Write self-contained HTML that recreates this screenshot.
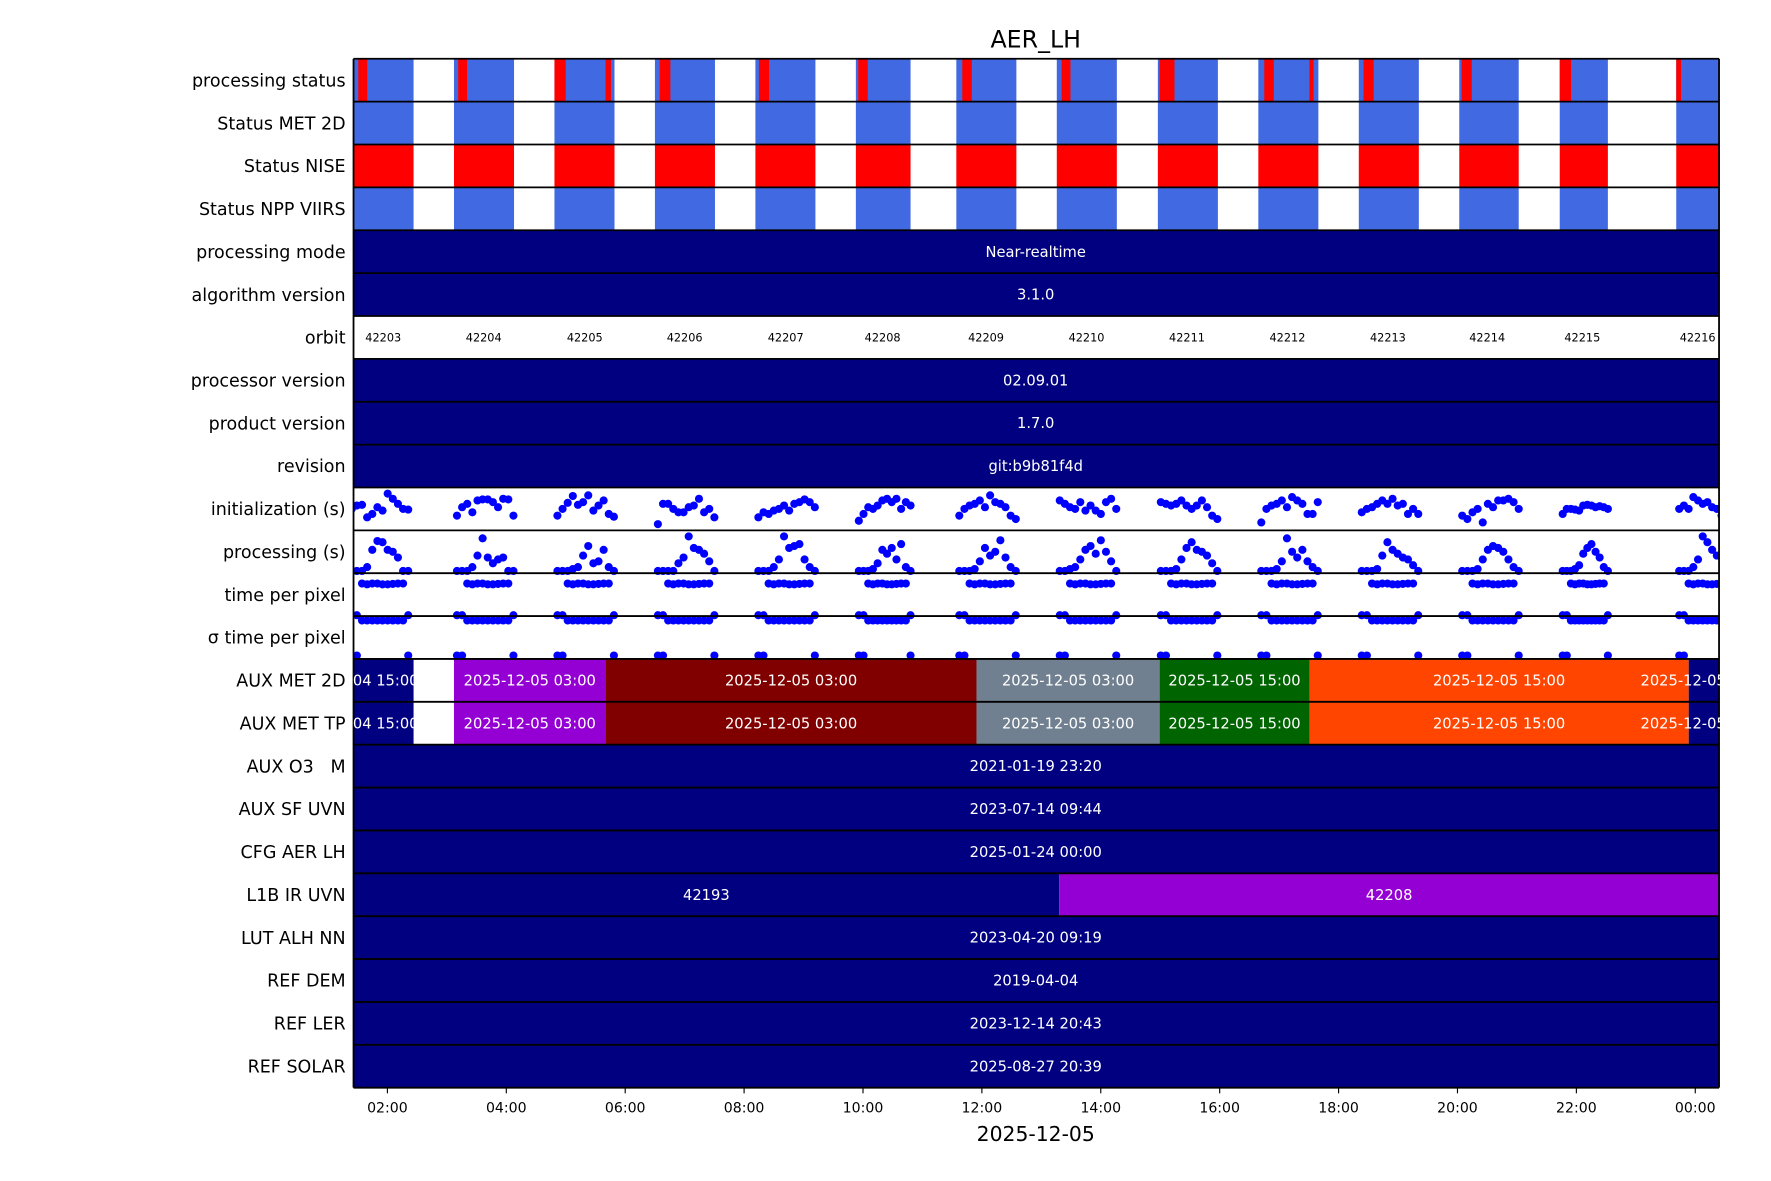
<!DOCTYPE html>
<html><head><meta charset="utf-8"><style>
html,body{margin:0;padding:0;background:#fff;}
svg{display:block;font-family:"DejaVu Sans","Liberation Sans",sans-serif;}
text{white-space:pre;}
</style></head><body>
<svg id="chart" width="1771" height="1181" viewBox="0 0 1568 1045.6" xmlns="http://www.w3.org/2000/svg">
<text x="917" y="42" font-size="21" text-anchor="middle">AER_LH</text>
<g id="rows"></g><g id="dots"></g><g id="grid"></g><g id="labels"></g><g id="axis"></g>
</svg>
<script>
const rowLabels=["processing status","Status MET 2D","Status NISE","Status NPP VIIRS","processing mode","algorithm version","orbit","processor version","product version","revision","initialization (s)","processing (s)","time per pixel","\u03c3 time per pixel","AUX MET 2D","AUX MET TP","AUX O3   M","AUX SF UVN","CFG AER LH","L1B IR UVN","LUT ALH NN","REF DEM","REF LER","REF SOLAR"];
const orbitNumbers=[42203,42204,42205,42206,42207,42208,42209,42210,42211,42212,42213,42214,42215,42216];
const orbitStart=[1.35,3.12,4.81,6.50,8.19,9.88,11.57,13.26,14.96,16.65,18.34,20.03,21.72,23.68];
const orbitEnd=[2.44,4.13,5.82,7.51,9.20,10.80,12.58,14.27,15.97,17.66,19.35,21.03,22.53,24.6];
const orbitLabelHour=[1.93,3.62,5.32,7.00,8.70,10.33,12.07,13.76,15.45,17.14,18.83,20.50,22.10,24.04];
const errStart=[1.51,3.19,4.81,6.58,8.25,9.92,11.67,13.34,14.99,16.75,18.42,20.07,21.72,23.68];
const errEnd=[1.66,3.34,5.00,6.76,8.42,10.08,11.83,13.49,15.24,16.91,18.59,20.24,21.91,23.76];
const err2Start=[null,null,5.67,null,null,null,null,null,null,17.51,null,null,null,null];
const err2End=[null,null,5.76,null,null,null,null,null,null,17.58,null,null,null,null];
const constRows={4:"Near-realtime",5:"3.1.0",7:"02.09.01",8:"1.7.0",9:"git:b9b81f4d",16:"2021-01-19 23:20",17:"2023-07-14 09:44",18:"2025-01-24 00:00",20:"2023-04-20 09:19",21:"2019-04-04",22:"2023-12-14 20:43",23:"2025-08-27 20:39"};
const auxStart=[0.3,3.12,5.67,11.91,14.99,17.51,23.89];
const auxEnd=[2.44,5.67,11.91,14.99,17.51,23.89,25.5];
const auxColors=["#000080","#9400D3","#800000","#708090","#006400","#FF4500","#000080"];
const auxText=["2025-12-04 15:00","2025-12-05 03:00","2025-12-05 03:00","2025-12-05 03:00","2025-12-05 15:00","2025-12-05 15:00","2025-12-05 15:00"];
const l1bStart=[0,13.3],l1bEnd=[13.3,26],l1bColors=["#000080","#9400D3"],l1bText=["42193","42208"];
const tickHours=[2,4,6,8,10,12,14,16,18,20,22,24];
const tickLabels=["02:00","04:00","06:00","08:00","10:00","12:00","14:00","16:00","18:00","20:00","22:00","00:00"];
const initVals=[
[.5,.6,.62,.25,.35,.55,.45,.95,.8,.65,.5,.48],
[.3,.55,.65,.4,.75,.78,.78,.7,.55,.8,.78,.3],
[.3,.5,.68,.88,.62,.7,.9,.45,.6,.75,.35,.27],
[.05,.65,.65,.5,.4,.4,.55,.6,.8,.4,.5,.25],
[.25,.4,.35,.45,.5,.6,.45,.65,.7,.78,.7,.55],
[.15,.35,.55,.5,.6,.75,.8,.7,.8,.5,.7,.6],
[.3,.5,.6,.65,.75,.55,.9,.7,.65,.55,.3,.2],
[.75,.65,.55,.5,.7,.45,.6,.45,.35,.7,.8,.5],
[.7,.65,.6,.65,.75,.6,.5,.6,.75,.55,.3,.2],
[.1,.5,.6,.65,.75,.55,.85,.75,.65,.35,.35,.7],
[.4,.5,.55,.65,.75,.65,.8,.6,.65,.35,.5,.35],
[.3,.2,.4,.5,.1,.65,.55,.75,.75,.8,.7,.5],
[.35,.5,.5,.48,.45,.6,.62,.6,.55,.58,.55,.5],
[.5,.6,.5,.85,.75,.65,.7,.55,.5,.3,.2,.2]];
const procVals=[
[0,0,0,.1,.55,.78,.75,.55,.5,.35,0,0],
[0,0,0,.1,.4,.85,.35,.2,.3,.35,0,0],
[0,0,0,.05,.1,.4,.65,.2,.25,.55,.1,0],
[0,0,0,0,.2,.35,.9,.6,.55,.45,.25,0],
[0,0,0,.1,.3,.9,.6,.65,.7,.3,.1,0],
[0,0,0,.05,.2,.55,.45,.6,.3,.7,.1,0],
[0,0,0,.05,.25,.6,.4,.5,.8,.35,.1,0],
[0,0,.05,.1,.3,.55,.65,.45,.8,.5,.25,0],
[0,0,0,.05,.3,.6,.75,.55,.5,.4,.2,0],
[0,0,0,.05,.25,.85,.5,.35,.55,.25,.1,0],
[0,0,0,.05,.4,.75,.55,.45,.35,.3,.15,0],
[0,0,0,.05,.3,.55,.65,.6,.5,.3,.1,0],
[0,0,0,.05,.15,.45,.6,.7,.5,.35,.1,0],
[0,0,0,.1,.3,.9,.75,.55,.4,.35,.1,0]];
const tppVals=[.02,.02,.76,.74,.76,.76,.74,.74,.75,.76,.76,.02];
const sigVals=[.12,.12,.86,.86,.86,.86,.86,.86,.86,.86,.86,.12];
</script>
<script>
const NS="http://www.w3.org/2000/svg";
const X0=313,X1=1522,Y0=52,RH=37.958,H0=1.43,H1=24.40;
function xs(h){return X0+(h-H0)/(H1-H0)*(X1-X0);}
function ry(i){return Y0+i*RH;}
function mk(tag,attrs,parent){const e=document.createElementNS(NS,tag);for(const k in attrs)e.setAttribute(k,attrs[k]);parent.appendChild(e);return e;}
const defs=mk("defs",{},document.getElementById("chart"));
const cp=mk("clipPath",{id:"plotclip"},defs);mk("rect",{x:X0,y:Y0,width:X1-X0,height:RH*24},cp);
const rows=document.getElementById("rows"),dots=document.getElementById("dots"),grid=document.getElementById("grid"),labels=document.getElementById("labels"),axis=document.getElementById("axis");
rows.setAttribute("clip-path","url(#plotclip)");
function seg(row,h0,h1,color,name){const a=Math.max(xs(h0),X0),b=Math.min(xs(h1),X1);if(b<=a)return;const r=mk("rect",{x:a,y:ry(row),width:b-a,height:RH,fill:color},rows);

}
function txt(parent,x,y,s,size,fill,anchor,name){const t=mk("text",{x:x,y:y,"font-size":size,fill:fill,"text-anchor":anchor},parent);t.textContent=s;

return t;}
for(let k=0;k<orbitStart.length;k++){
 seg(0,orbitStart[k],orbitEnd[k],"#4169E1","processing-status-ok");
 seg(0,errStart[k],errEnd[k],"#FF0000","processing-status-error");
 if(err2Start[k]!==null)seg(0,err2Start[k],err2End[k],"#FF0000","processing-status-error");
 seg(1,orbitStart[k],orbitEnd[k],"#4169E1","status-met-2d-bar");
 seg(2,orbitStart[k],orbitEnd[k],"#FF0000","status-nise-bar");
 seg(3,orbitStart[k],orbitEnd[k],"#4169E1","status-npp-viirs-bar");
 txt(labels,xs(orbitLabelHour[k]),ry(6)+RH/2+3.5,String(orbitNumbers[k]),10,"#000","middle","orbit-number-label");
}
for(const r in constRows){seg(+r,0,26,"#000080","constant-bar");txt(labels,917,ry(+r)+RH/2+4.5,constRows[r],13,"#fff","middle","constant-value-label");}
for(let k=0;k<auxStart.length;k++){for(const r of [14,15]){
 const a=auxStart[k],b=auxEnd[k];
 seg(r,a,b,auxColors[k],"aux-met-bar");
 let cx=(Math.max(xs(a),X0)+Math.min(xs(b),X1))/2; if(k===0)cx=312; if(k===auxStart.length-1)cx=1511;
 txt(labels,cx,ry(r)+RH/2+4.5,auxText[k],13,"#fff","middle","aux-met-date-label");}}
for(let k=0;k<l1bStart.length;k++){seg(19,l1bStart[k],l1bEnd[k],l1bColors[k],"l1b-ir-uvn-bar");
 const cx=(Math.max(xs(l1bStart[k]),X0)+Math.min(xs(l1bEnd[k]),X1))/2;txt(labels,cx,ry(19)+RH/2+4.5,l1bText[k],13,"#fff","middle","l1b-orbit-label");}
dots.setAttribute("clip-path","url(#plotclip)");
function scat(row,vals,k,pad,name){const n=vals.length,s=orbitStart[k]+0.05,e=Math.min(orbitEnd[k],orbitStart[k]+1.0);
 for(let i=0;i<n;i++){const h=s+(e-s)*i/(n-1);const y=ry(row)+RH-pad-vals[i]*(RH-2*pad);
 const c=mk("circle",{cx:xs(h),cy:y,r:3.6,fill:"#0000FF"},dots);
 
 }}
for(let k=0;k<orbitStart.length;k++){
 scat(10,initVals[k],k,4,"initialization-point");
 scat(11,procVals[k],k,2,"processing-point");
 scat(12,tppVals,k,0,"time-per-pixel-point");
 scat(13,sigVals,k,-2,"sigma-time-per-pixel-point");
}
for(let i=0;i<=24;i++){const l=mk("line",{x1:X0,x2:X1,y1:ry(i),y2:ry(i),stroke:"#000","stroke-width":1.6},grid);
 
 }
for(const xx of [X0,X1]){const l=mk("line",{x1:xx,x2:xx,y1:Y0,y2:ry(24),stroke:"#000","stroke-width":1.6},grid);
 
 }
rowLabels.forEach((s,i)=>{txt(labels,306,ry(i)+RH/2+5.5,s,15.5,"#000","end","row-label");});
tickHours.forEach((h,i)=>{const x=xs(h);const l=mk("line",{x1:x,x2:x,y1:ry(24),y2:ry(24)+5,stroke:"#000","stroke-width":1},axis);
 
 
 txt(axis,x,ry(24)+22,tickLabels[i],12.5,"#000","middle","x-tick-label");});
txt(axis,917,1010,"2025-12-05",18,"#000","middle","x-axis-title");
</script>
</body></html>
